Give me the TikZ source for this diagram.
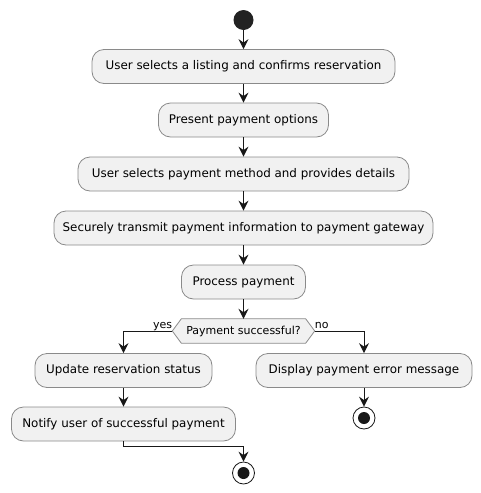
\documentclass[tikz,border=0pt]{standalone}
\usepackage{fontspec}
\setmainfont{DejaVu Sans}
\usepackage{xcolor}
\usetikzlibrary{arrows.meta,backgrounds}
\definecolor{actfill}{HTML}{F1F1F1}
\definecolor{actborder}{HTML}{8A8A8A}
\definecolor{actline}{HTML}{181818}
\definecolor{startfill}{HTML}{222222}

\begin{document}
\begin{tikzpicture}[x=1pt,y=-1pt,
  >={Stealth[length=10pt,width=10pt,inset=3.5pt]},
  act/.style={draw=actborder,fill=actfill,line width=0.8pt,rounded corners=12pt,
    minimum height=34pt,inner xsep=4pt,font=\fontsize{11.9}{14}\selectfont},
  flow/.style={->,draw=actline,line width=1pt},
  guard/.style={inner sep=0pt,font=\fontsize{11}{13}\selectfont},
  stopnode/.style={circle,draw=actline,fill=white,line width=0.8pt,minimum size=22pt,inner sep=0pt,
    path picture={\fill[actline] (path picture bounding box.center) circle (6pt);}}]
\useasboundingbox (0,0) rectangle (481,493);

% Start
\node[circle,fill=startfill,minimum size=20pt,inner sep=0pt] (start) at (243.5,20) {};

% Main flow
\node[act,minimum width=303pt] (select) at (243.5,66.5) {User selects a listing and confirms reservation};
\node[act,minimum width=170pt] (present) at (243.5,120) {Present payment options};
\node[act,minimum width=331pt] (method) at (243.5,174) {User selects payment method and provides details};
\node[act,minimum width=379pt] (transmit) at (243.5,228) {Securely transmit payment information to payment gateway};
\node[act,minimum width=124pt] (process) at (243.5,282) {Process payment};

% Decision
\node[minimum width=142pt,minimum height=24pt,font=\fontsize{11}{13}\selectfont] (check) at (243.5,331) {Payment successful?};
\begin{scope}[on background layer]
\draw[draw=actborder,fill=actfill,line width=0.8pt] (check.west) -- ([xshift=9pt]check.north west)
  -- ([xshift=-9pt]check.north east) -- (check.east) -- ([xshift=-9pt]check.south east)
  -- ([xshift=9pt]check.south west) -- cycle;
\end{scope}

% Branches
\node[act,minimum width=177pt] (update) at (123.5,370.5) {Update reservation status};
\node[act,minimum width=224pt] (notify) at (123.5,424) {Notify user of successful payment};
\node[act,minimum width=216pt] (error) at (364,370.5) {Display payment error message};

% Stops
\node[stopnode] (stopok) at (243.5,473) {};
\node[stopnode] (stopfail) at (364,418) {};

% Connectors
\draw[flow] (start) -- (select);
\draw[flow] (select) -- (present);
\draw[flow] (present) -- (method);
\draw[flow] (method) -- (transmit);
\draw[flow] (transmit) -- (process);
\draw[flow] (process) -- (check);
\draw[flow] (check.west) -| (update);
\node[guard,anchor=base east] (yes) at ([yshift=3pt]check.west) {yes};
\draw[flow] (check.east) -| (error);
\node[guard,anchor=base west] (no) at ([yshift=3pt]check.east) {no};
\draw[flow] (update) -- (notify);
\draw[flow] (error) -- (stopfail);
\draw[flow] (notify.south) -- ++(0,5) -| (stopok);
\end{tikzpicture}
\end{document}
